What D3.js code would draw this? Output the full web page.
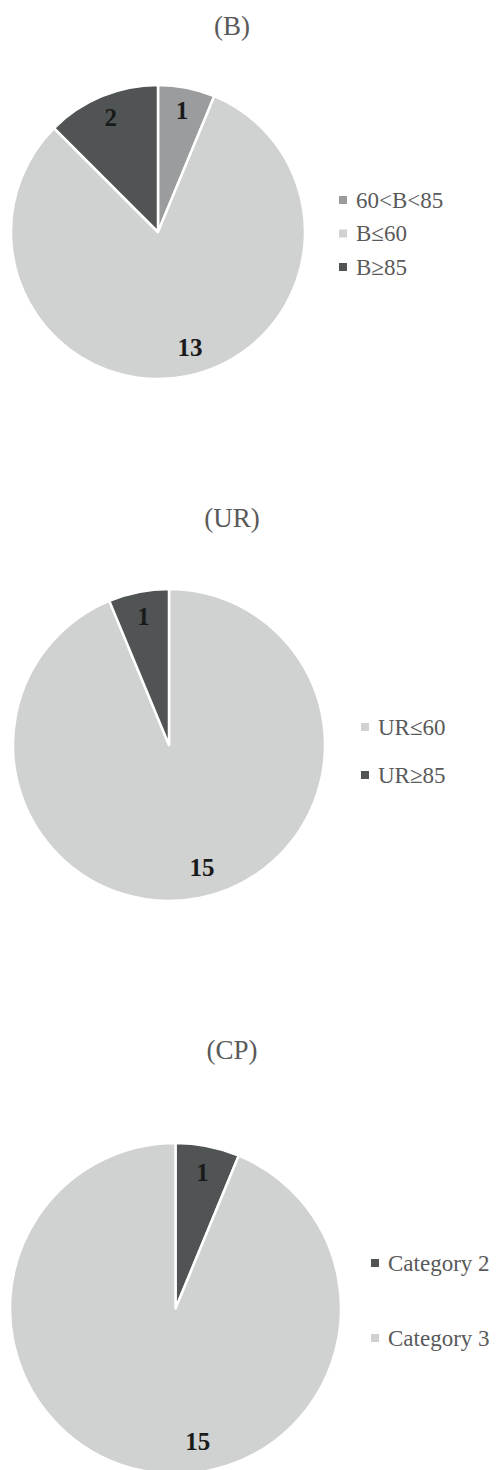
<!DOCTYPE html>
<html>
<head>
<meta charset="utf-8">
<script src="https://cdn.jsdelivr.net/npm/d3@7"></script>
<style>
  body { margin: 0; background: #fff; }
  text { font-family: "Liberation Serif", "Times New Roman", serif; }
</style>
</head>
<body>
<div id="chart"></div>
<script>
// data
var bCategories = ["60<B<85", "B≤60", "B≥85"];
var bValues = [1, 13, 2];

var urCategories = ["UR≤60", "UR≥85"];
var urValues = [15, 1];

var cpCategories = ["Category 2", "Category 3"];
var cpValues = [1, 15];

var titles = ["(B)", "(UR)", "(CP)"];

var shade = {
  "60<B<85": "#9a9c9d",
  "B≤60": "#d0d1d1",
  "B≥85": "#505455",
  "UR≤60": "#d0d1d1",
  "UR≥85": "#505455",
  "Category 2": "#505455",
  "Category 3": "#d0d1d1"
};

// layout of each panel (bigAngle = where the label of the large slice sits, degrees from 12 o'clock)
var panels = [
  {cats: bCategories, vals: bValues, title: titles[0], ty: 26, cx: 158, cy: 232, r: 147, bigAngle: 164.5, lx: 343, ly: 200, lstep: 33.5},
  {cats: urCategories, vals: urValues, title: titles[1], ty: 518, cx: 169, cy: 745, r: 156, bigAngle: 165, lx: 365, ly: 727, lstep: 48},
  {cats: cpCategories, vals: cpValues, title: titles[2], ty: 1050, cx: 175.5, cy: 1308.5, r: 165.5, bigAngle: 170.5, lx: 375, ly: 1263, lstep: 75}
];

var svg = d3.select("#chart").append("svg")
  .attr("width", 497)
  .attr("height", 1470);

var pie = d3.pie().sort(null).value(function(d){ return d.v; });

panels.forEach(function(p){
  var rows = p.cats.map(function(c, i){ return {c: c, v: p.vals[i]}; });
  var arcs = pie(rows);
  var arc = d3.arc().innerRadius(0).outerRadius(p.r);

  function labelPos(d){
    var a = (d.startAngle + d.endAngle) / 2;
    var k = 0.84;
    if(d.endAngle - d.startAngle > Math.PI){
      a = p.bigAngle * Math.PI / 180;
      k = 0.815;
    }
    return [Math.sin(a) * p.r * k, -Math.cos(a) * p.r * k];
  }

  svg.append("text")
    .attr("x", 232)
    .attr("y", p.ty)
    .attr("text-anchor", "middle")
    .attr("dominant-baseline", "central")
    .style("font-size", "27px")
    .style("fill", "#595959")
    .text(p.title);

  var g = svg.append("g").attr("transform", "translate(" + p.cx + "," + p.cy + ")");

  g.selectAll("path").data(arcs).enter().append("path")
    .attr("d", arc)
    .attr("fill", function(d){ return shade[d.data.c]; })
    .attr("stroke", "#fff")
    .attr("stroke-width", 2.5)
    .attr("stroke-linejoin", "round");

  g.selectAll("text.lbl").data(arcs).enter().append("text")
    .attr("class", "lbl")
    .attr("transform", function(d){ return "translate(" + labelPos(d) + ")"; })
    .attr("text-anchor", "middle")
    .attr("dominant-baseline", "central")
    .style("font-size", "25px")
    .style("font-weight", "bold")
    .style("fill", "#1a1a1a")
    .text(function(d){ return d.data.v; });

  var leg = svg.append("g");
  p.cats.forEach(function(c, i){
    var y = p.ly + i * p.lstep;
    leg.append("rect")
      .attr("x", p.lx - 4)
      .attr("y", y - 4)
      .attr("width", 8)
      .attr("height", 8)
      .attr("fill", shade[c]);
    leg.append("text")
      .attr("x", p.lx + 13)
      .attr("y", y)
      .attr("dominant-baseline", "central")
      .style("font-size", "23px")
      .style("fill", "#595959")
      .text(c);
  });
});
</script>
</body>
</html>
